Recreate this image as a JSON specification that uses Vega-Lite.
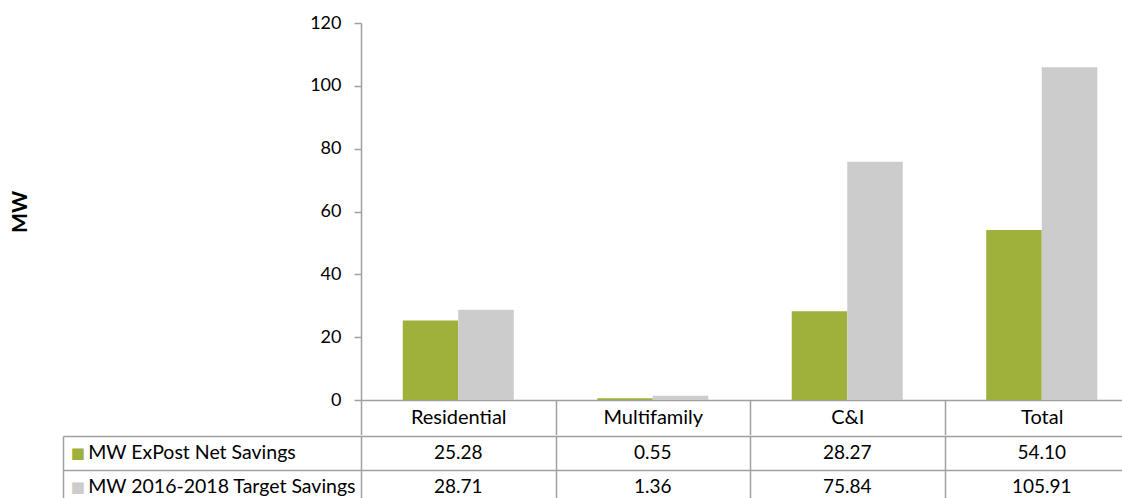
{
  "$schema": "https://vega.github.io/schema/vega-lite/v6.json",
  "background": "white",
  "padding": {"left": 9, "top": 14, "right": 0, "bottom": 0},
  "spacing": -12,
  "config": {
    "view": {"stroke": null},
    "font": "Lato",
    "axis": {"labelFont": "Lato", "titleFont": "Lato", "labelColor": "#000000", "titleColor": "#000000"}
  },
  "data": {
    "values": [
      {"category": "Residential", "series": "MW ExPost Net Savings", "value": 25.28},
      {"category": "Residential", "series": "MW 2016-2018 Target Savings", "value": 28.71},
      {"category": "Multifamily", "series": "MW ExPost Net Savings", "value": 0.55},
      {"category": "Multifamily", "series": "MW 2016-2018 Target Savings", "value": 1.36},
      {"category": "C&I", "series": "MW ExPost Net Savings", "value": 28.27},
      {"category": "C&I", "series": "MW 2016-2018 Target Savings", "value": 75.84},
      {"category": "Total", "series": "MW ExPost Net Savings", "value": 54.10},
      {"category": "Total", "series": "MW 2016-2018 Target Savings", "value": 105.91}
    ]
  },
  "vconcat": [
    {
      "width": 778,
      "height": 377,
      "mark": {"type": "bar"},
      "encoding": {
        "x": {
          "field": "category",
          "type": "nominal",
          "sort": ["Residential", "Multifamily", "C&I", "Total"],
          "scale": {"paddingInner": 0, "paddingOuter": 0},
          "axis": {
            "title": null,
            "labelAngle": 0,
            "labelFontSize": 20,
            "labelBaseline": "middle",
            "labelPadding": -17.4,
            "tickBand": "extent",
            "tickSize": 34.7,
            "tickWidth": 1.5,
            "tickColor": "#a0a0a0",
            "domainColor": "#a0a0a0",
            "domainWidth": 1.5
          }
        },
        "xOffset": {
          "field": "series",
          "sort": ["MW ExPost Net Savings", "MW 2016-2018 Target Savings"],
          "scale": {"paddingOuter": 0.752, "paddingInner": 0}
        },
        "y": {
          "field": "value",
          "type": "quantitative",
          "scale": {"domain": [0, 120], "nice": false},
          "axis": {
            "title": "MW",
            "titleFontWeight": "bold",
            "titleFontSize": 21,
            "titlePadding": 279,
            "values": [0, 20, 40, 60, 80, 100, 120],
            "grid": false,
            "labelFontSize": 18,
            "labelPadding": 13,
            "tickSize": 7,
            "tickWidth": 1.5,
            "tickColor": "#a0a0a0",
            "domainColor": "#a0a0a0",
            "domainWidth": 1.5
          }
        },
        "color": {
          "field": "series",
          "type": "nominal",
          "scale": {
            "domain": ["MW ExPost Net Savings", "MW 2016-2018 Target Savings"],
            "range": ["#9fb13b", "#cccccc"]
          },
          "legend": null
        }
      }
    },
    {
      "width": 778,
      "height": 67.4,
      "resolve": {"axis": {"y": "independent"}},
      "layer": [
        {
          "mark": {"type": "text", "fontSize": 19, "font": "Lato", "color": "#000000"},
          "encoding": {
            "x": {
              "field": "category",
              "type": "nominal",
              "sort": ["Residential", "Multifamily", "C&I", "Total"],
              "scale": {"paddingInner": 0, "paddingOuter": 0},
              "axis": {
                "title": null,
                "orient": "bottom",
                "labels": false,
                "ticks": false,
                "domain": false,
                "grid": true,
                "tickBand": "extent",
                "gridColor": "#a0a0a0",
                "gridWidth": 1.5
              }
            },
            "y": {
              "field": "series",
              "type": "nominal",
              "sort": ["MW ExPost Net Savings", "MW 2016-2018 Target Savings"],
              "axis": {
                "title": null,
                "domain": false,
                "grid": true,
                "gridColor": "#a0a0a0",
                "gridWidth": 1.5,
                "tickBand": "extent",
                "tickSize": 298,
                "tickColor": "#a0a0a0",
                "tickWidth": 1.5,
                "labelAlign": "left",
                "labelBaseline": "middle",
                "labelPadding": -24.7,
                "labelFontSize": 19.5,
                "labelLimit": 400
              }
            },
            "text": {"field": "value", "type": "quantitative", "format": ".2f"}
          }
        },
        {
          "mark": {"type": "text", "text": ""},
          "encoding": {
            "y": {
              "field": "series",
              "type": "nominal",
              "sort": ["MW ExPost Net Savings", "MW 2016-2018 Target Savings"],
              "axis": {
                "title": null,
                "orient": "left",
                "offset": 298,
                "domain": true,
                "domainColor": "#a0a0a0",
                "domainWidth": 1.5,
                "ticks": false,
                "tickSize": 0,
                "grid": false,
                "labelExpr": "'■'",
                "labelFont": "DejaVu Sans",
                "labelFontSize": 15,
                "labelAlign": "left",
                "labelBaseline": "middle",
                "labelPadding": -7.3,
                "labelColor": {
                  "condition": {"test": "datum.value === 'MW ExPost Net Savings'", "value": "#9fb13b"},
                  "value": "#cccccc"
                }
              }
            }
          }
        }
      ]
    }
  ]
}
